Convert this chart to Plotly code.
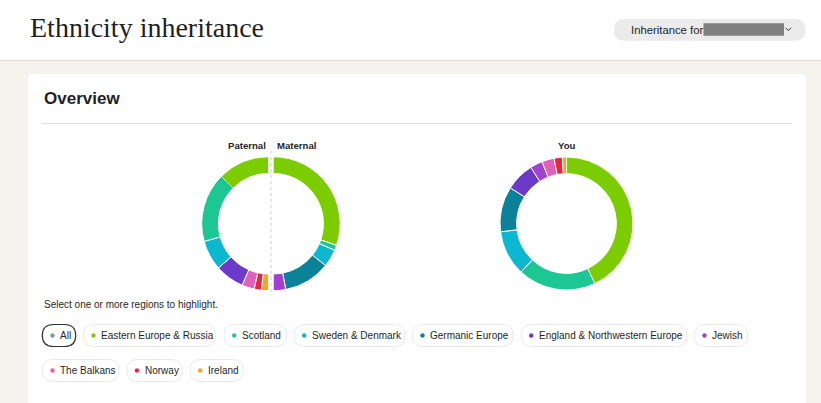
import plotly.graph_objects as go

W, H = 821, 403

regions = ["Eastern Europe & Russia", "Scotland", "Sweden & Denmark", "Germanic Europe",
           "England & Northwestern Europe", "Jewish", "The Balkans", "Norway", "Ireland"]
colors = ["#7bcc00", "#1cc794", "#0cb8cf", "#0b8299", "#6b3ac8", "#a041d2",
          "#e062b8", "#e52840", "#f5a623"]
you_pct = [43, 19, 11, 11, 7, 3, 3, 2, 1]
paternal_pct = [25, 33.5, 14.5, 0, 14, 0, 6, 3.5, 3.5]
maternal_pct = [60.5, 2.5, 8.5, 22.5, 0, 6, 0, 0, 0]

chip_labels = ["All"] + regions
chip_dot_colors = ["#7a9e9a"] + colors
# chip layout: (left, right, center_y)
chip_layout = [(42.3, 75.7, 335.5), (83.3, 215.7, 335.5), (224, 286.7, 335.5), (294, 405, 335.5),
               (412.3, 513.3, 335.5), (521, 686.7, 335.5), (694.3, 747.7, 335.5),
               (42.3, 119, 370.5), (126.7, 182.3, 370.5), (190, 243.3, 370.5)]

SANS = "Liberation Sans, Arial, sans-serif"


def rrect(x0, y0, x1, y1, r):
    return (f"M{x0 + r},{y0} L{x1 - r},{y0} Q{x1},{y0} {x1},{y0 + r} L{x1},{y1 - r} "
            f"Q{x1},{y1} {x1 - r},{y1} L{x0 + r},{y1} Q{x0},{y1} {x0},{y1 - r} "
            f"L{x0},{y0 + r} Q{x0},{y0} {x0 + r},{y0} Z")


def dom(cx, cy, r):
    return dict(x=[(cx - r) / W, (cx + r) / W], y=[1 - (cy + r) / H, 1 - (cy - r) / H])


def half_pie(vals, reverse, cx, cy, r, name):
    items = [(l, c, v) for l, c, v in zip(regions, colors, vals) if v > 0]
    if reverse:
        items = items[::-1]
    labs = [f"{name}: {l}" for l, _, _ in items]
    cols = [c for _, c, _ in items]
    vs = [v for _, _, v in items]
    total = sum(vs)
    return go.Pie(
        labels=labs + [f"{name} other"], values=vs + [total * 1.0001], sort=False,
        direction="clockwise", rotation=180 if reverse else 0, hole=0.75,
        textinfo="none", showlegend=False, name=name,
        marker=dict(colors=cols + ["rgba(0,0,0,0)"],
                    line=dict(color=["#ffffff"] * len(vs) + ["rgba(0,0,0,0)"],
                              width=[1] * len(vs) + [0])),
        domain=dom(cx, cy, r), hoverinfo="label+percent",
    )


fig = go.Figure()
fig.add_trace(half_pie(paternal_pct, True, 268.7, 223.7, 67, "Paternal"))
fig.add_trace(half_pie(maternal_pct, False, 273.2, 223.7, 67, "Maternal"))
fig.add_trace(go.Pie(
    labels=regions, values=you_pct, sort=False, direction="clockwise", rotation=0,
    hole=0.75, textinfo="none", showlegend=False, name="You",
    marker=dict(colors=colors, line=dict(color="#ffffff", width=1)),
    domain=dom(566.5, 223.5, 66.5),
))

shapes = []
# page background
shapes.append(dict(type="rect", x0=0, y0=60.5, x1=W, y1=H, fillcolor="#f6f3ef", line_width=0, layer="below"))
shapes.append(dict(type="line", x0=0, y0=60.5, x1=W, y1=60.5, line=dict(color="#e2ded9", width=1.5), layer="below"))
# card
shapes.append(dict(type="path", path=rrect(28, 74, 806, 420, 6), fillcolor="#ffffff", line_width=0, layer="below"))
shapes.append(dict(type="line", x0=42, y0=123.5, x1=792, y1=123.5, line=dict(color="#dddddd", width=1), layer="below"))
# dropdown
shapes.append(dict(type="path", path=rrect(614, 19, 805.5, 40.7, 10.5), fillcolor="#ebebeb", line_width=0, layer="below"))
shapes.append(dict(type="rect", x0=703.5, y0=23.3, x1=784, y1=35.7, fillcolor="#808080", line_width=0, layer="below"))
shapes.append(dict(type="path", path="M785.5,27.8 L788.3,30.6 L791.1,27.8", line=dict(color="#333333", width=1)))
# divider between paternal / maternal
shapes.append(dict(type="line", x0=271, y0=151, x1=271, y1=294, line=dict(color="#cccccc", width=1, dash="dot")))

annotations = [
    dict(x=27.5, y=27, text="Ethnicity inheritance", xanchor="left", yanchor="middle",
         font=dict(family="Liberation Serif, Times New Roman, serif", size=28, color="#1f1f1f")),
    dict(x=628.5, y=30, text="Inheritance for", xanchor="left", yanchor="middle",
         font=dict(family=SANS, size=11.3, color="#1f1f1f")),
    dict(x=42, y=98.5, text="<b>Overview</b>", xanchor="left", yanchor="middle",
         font=dict(family=SANS, size=17, color="#1f1f1f")),
    dict(x=267.5, y=145, text="<b>Paternal</b>", xanchor="right", yanchor="middle",
         font=dict(family=SANS, size=9.6, color="#1f1f1f")),
    dict(x=274.5, y=145, text="<b>Maternal</b>", xanchor="left", yanchor="middle",
         font=dict(family=SANS, size=9.6, color="#1f1f1f")),
    dict(x=566.5, y=145, text="<b>You</b>", xanchor="center", yanchor="middle",
         font=dict(family=SANS, size=9.6, color="#1f1f1f")),
    dict(x=42, y=304, text="Select one or more regions to highlight.", xanchor="left", yanchor="middle",
         font=dict(family=SANS, size=10, color="#1f1f1f")),
]

for i, (lab, dc) in enumerate(zip(chip_labels, chip_dot_colors)):
    x0, x1, cy = chip_layout[i]
    sel = i == 0
    shapes.append(dict(type="path", path=rrect(x0, cy - 11, x1, cy + 11, 11), fillcolor="#ffffff",
                       line=dict(color="#333333" if sel else "#e9e9e9", width=1.2 if sel else 1)))
    shapes.append(dict(type="circle", x0=x0 + 8, y0=cy - 2.2, x1=x0 + 12.4, y1=cy + 2.2,
                       fillcolor=dc, line_width=0))
    annotations.append(dict(x=x0 + 16, y=cy, text=lab, xanchor="left", yanchor="middle",
                            font=dict(family=SANS, size=10, color="#1f1f1f")))

for a in annotations:
    a.update(xref="x", yref="y", showarrow=False)
for s in shapes:
    s.update(xref="x", yref="y")

fig.update_layout(
    width=W, height=H, margin=dict(l=0, r=0, t=0, b=0),
    paper_bgcolor="#ffffff", plot_bgcolor="rgba(0,0,0,0)",
    xaxis=dict(range=[0, W], visible=False, fixedrange=True),
    yaxis=dict(range=[H, 0], visible=False, fixedrange=True),
    shapes=shapes, annotations=annotations,
)

fig.write_html("out.html", config={"displayModeBar": False})
